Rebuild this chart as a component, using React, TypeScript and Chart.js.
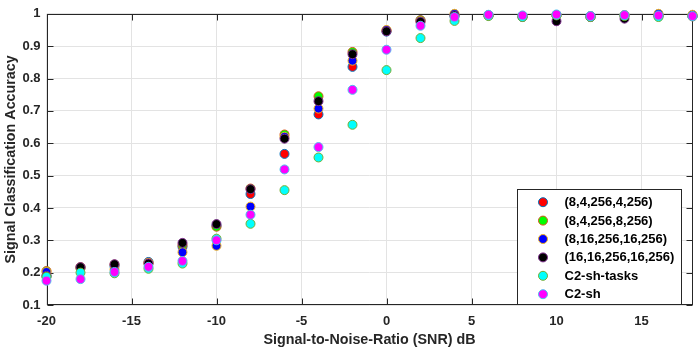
import React, { useEffect, useRef } from "react";
import { Chart, registerables } from "chart.js";
Chart.register(...registerables);

const SNR = [-20, -18, -16, -14, -12, -10, -8, -6, -4, -2, 0, 2, 4, 6, 8, 10, 12, 14, 16, 18];

const ACC_8_4_4 = [0.19, 0.215, 0.22, 0.233, 0.28, 0.345, 0.443, 0.567, 0.689, 0.836, 0.945, 0.98, 0.995, 0.995, 0.993, 0.995, 0.993, 0.995, 0.995, 0.993];
const ACC_8_4_8 = [0.205, 0.217, 0.225, 0.23, 0.285, 0.342, 0.46, 0.627, 0.745, 0.882, 0.948, 0.98, 0.993, 0.995, 0.992, 0.996, 0.99, 0.995, 0.997, 0.995];
const ACC_8_16_16 = [0.202, 0.213, 0.21, 0.23, 0.263, 0.283, 0.404, 0.62, 0.707, 0.855, 0.95, 0.977, 1.0, 0.995, 0.993, 0.995, 0.992, 0.996, 1.0, 0.997];
const ACC_16_16_16 = [0.19, 0.217, 0.226, 0.228, 0.292, 0.35, 0.458, 0.614, 0.73, 0.875, 0.946, 0.975, 0.995, 0.995, 0.99, 0.977, 0.99, 0.985, 0.993, 0.992];
const ACC_C2_SH_TASKS = [0.187, 0.2, 0.198, 0.212, 0.228, 0.305, 0.351, 0.455, 0.556, 0.657, 0.826, 0.925, 0.978, 0.993, 0.99, 0.995, 0.99, 0.993, 0.99, 0.992];
const ACC_C2_SH = [0.175, 0.18, 0.202, 0.218, 0.236, 0.3, 0.379, 0.519, 0.588, 0.765, 0.889, 0.963, 0.99, 0.997, 0.995, 0.998, 0.993, 0.996, 0.995, 0.993];

const SERIES_LABELS = [
  "(8,4,256,4,256)",
  "(8,4,256,8,256)",
  "(8,16,256,16,256)",
  "(16,16,256,16,256)",
  "C2-sh-tasks",
  "C2-sh",
];
const SERIES_VALUES = [ACC_8_4_4, ACC_8_4_8, ACC_8_16_16, ACC_16_16_16, ACC_C2_SH_TASKS, ACC_C2_SH];
const FILL_COLORS = ["#FF0000", "#00FF00", "#0000FF", "#000000", "#00FFFF", "#FF00FF"];
const EDGE_COLORS = ["#0072BD", "#D95319", "#EDB120", "#7E2F8E", "#77AC30", "#4DBEEE"];

const X_TICKS = [-20, -15, -10, -5, 0, 5, 10, 15];
const Y_TICKS = [0.1, 0.2, 0.3, 0.4, 0.5, 0.6, 0.7, 0.8, 0.9, 1];

const X_TITLE = "Signal-to-Noise-Ratio (SNR) dB";
const Y_TITLE = "Signal Classification Accuracy";

const FONT_FAMILY = "'Liberation Sans', Arial, Helvetica, sans-serif";

export default function App() {
  const ref = useRef<HTMLCanvasElement>(null);

  useEffect(() => {
    if (!ref.current) return;
    const font = { family: FONT_FAMILY, size: 13, weight: "bold" as const };
    const titleFont = { family: FONT_FAMILY, size: 14.3, weight: "bold" as const };
    const AXIS_COLOR = "#262626";
    const R = 4.5;

    const boxPlugin = {
      id: "matlabBox",
      beforeDatasetsDraw(chart: any) {
        const { ctx, chartArea: a, scales } = chart;
        ctx.save();
        ctx.strokeStyle = AXIS_COLOR;
        ctx.lineWidth = 1;
        const L = Math.round(a.left) + 0.5;
        const Rt = Math.round(a.right) - 0.5;
        const T = Math.round(a.top) + 0.5;
        const B = Math.round(a.bottom) - 0.5;
        ctx.strokeRect(L, T, Rt - L, B - T);
        const tl = 6;
        ctx.beginPath();
        for (const v of X_TICKS) {
          const x = Math.round(scales.x.getPixelForValue(v)) + 0.5;
          ctx.moveTo(x, B);
          ctx.lineTo(x, B - tl);
          ctx.moveTo(x, T);
          ctx.lineTo(x, T + tl);
        }
        for (const v of Y_TICKS) {
          const y = Math.round(scales.y.getPixelForValue(v)) + 0.5;
          ctx.moveTo(L, y);
          ctx.lineTo(L + tl, y);
          ctx.moveTo(Rt, y);
          ctx.lineTo(Rt - tl, y);
        }
        ctx.stroke();
        ctx.restore();
      },
    };

    const legendPlugin = {
      id: "matlabLegend",
      afterDraw(chart: any) {
        const { ctx, chartArea: a } = chart;
        ctx.save();
        const left = Math.round(a.right - 176) + 0.5;
        const right = Math.round(a.right - 12) + 0.5;
        const top = Math.round(a.top + 175) + 0.5;
        const bottom = top + 115;
        ctx.fillStyle = "#ffffff";
        ctx.fillRect(left, top, right - left, bottom - top);
        ctx.strokeStyle = AXIS_COLOR;
        ctx.lineWidth = 1;
        ctx.strokeRect(left, top, right - left, bottom - top);
        ctx.font = `bold 13px ${FONT_FAMILY}`;
        ctx.textBaseline = "middle";
        ctx.textAlign = "left";
        SERIES_LABELS.forEach((label, i) => {
          const y = top + 12.7 + i * 18.4;
          ctx.beginPath();
          ctx.arc(left + 25.5, y, R, 0, Math.PI * 2);
          ctx.fillStyle = FILL_COLORS[i];
          ctx.fill();
          ctx.strokeStyle = EDGE_COLORS[i];
          ctx.lineWidth = 1;
          ctx.stroke();
          ctx.fillStyle = "#000000";
          ctx.fillText(label, left + 47, y + 0.5);
        });
        ctx.restore();
      },
    };

    const chart = new Chart(ref.current, {
      type: "scatter",
      data: {
        datasets: SERIES_VALUES.map((vals, i) => ({
          label: SERIES_LABELS[i],
          data: SNR.map((x, j) => ({ x, y: vals[j] })),
          backgroundColor: FILL_COLORS[i],
          borderColor: EDGE_COLORS[i],
          pointRadius: R,
          pointBorderWidth: 1,
          showLine: false,
          clip: false as any,
          order: SERIES_VALUES.length - i,
        })),
      },
      options: {
        animation: false,
        responsive: true,
        maintainAspectRatio: false,
        layout: { padding: { left: 0, right: 5, top: 4, bottom: 0 } },
        plugins: {
          legend: { display: false },
          tooltip: { enabled: false },
        },
        scales: {
          x: {
            type: "linear",
            min: -20,
            max: 18,
            afterBuildTicks: (s: any) => {
              s.ticks = X_TICKS.map((v) => ({ value: v }));
            },
            afterFit: (s: any) => {
              s.height = 45;
            },
            grid: { color: "#e3e3e3", drawTicks: false },
            border: { display: false },
            ticks: { color: "#262626", font, padding: 9, maxRotation: 0, autoSkip: false },
            title: { display: true, text: X_TITLE, color: "#262626", font: titleFont, padding: { top: 0, bottom: 1.6 } },
          },
          y: {
            type: "linear",
            min: 0.1,
            max: 1,
            afterBuildTicks: (s: any) => {
              s.ticks = Y_TICKS.map((v) => ({ value: v }));
            },
            afterFit: (s: any) => {
              s.width = 46.5;
            },
            grid: { color: "#e3e3e3", drawTicks: false },
            border: { display: false },
            ticks: {
              color: "#262626",
              font,
              padding: 6,
              autoSkip: false,
              callback: (v: any) => String(Math.round(Number(v) * 10) / 10),
            },
            title: { display: true, text: Y_TITLE, color: "#262626", font: titleFont, padding: { top: 2, bottom: 0 } },
          },
        },
      },
      plugins: [boxPlugin, legendPlugin],
    });
    return () => chart.destroy();
  }, []);

  return (
    <div style={{ position: "absolute", left: 0, top: 0, width: 698, height: 350, background: "#fff" }}>
      <canvas ref={ref} />
    </div>
  );
}
